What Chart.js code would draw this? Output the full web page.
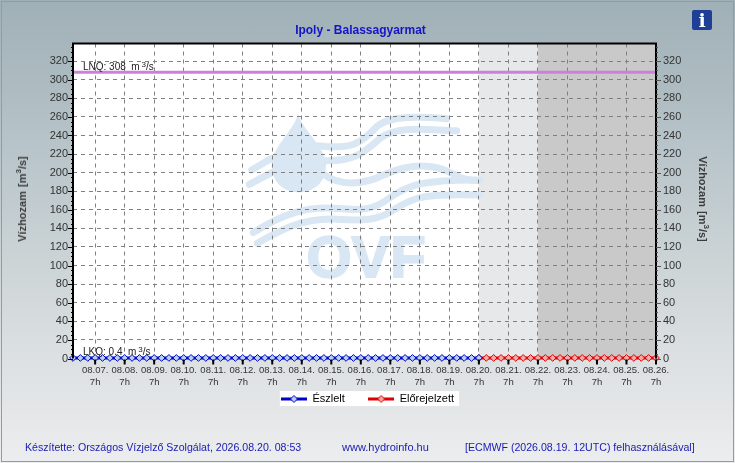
<!DOCTYPE html>
<html>
<head>
<meta charset="utf-8">
<title>Ipoly - Balassagyarmat</title>
<script src="https://cdn.jsdelivr.net/npm/chart.js@4"></script>
<style>
  html, body { margin: 0; padding: 0; }
  body {
    position: relative; width: 735px; height: 463px; overflow: hidden;
    font-family: "Liberation Sans", Arial, sans-serif;
    background: linear-gradient(#9fb0b6 0%, #b6c3c8 30%, #d3d9db 65%, #ecedee 100%);
  }
  #frame { position: absolute; left: 1px; top: 1px; width: 731px; height: 459px; border: 1px solid #9a9a9a; }
  canvas { position: absolute; left: 0; top: 0; }
  .txt { position: absolute; white-space: nowrap; }
  .title { left: 0; top: 23px; width: 721px; text-align: center; font-size: 12px; font-weight: bold; color: #1414c8; }
  .foot { top: 441px; font-size: 10.6px; color: #1a1ab4; }
  .ytitle { font-size: 11px; font-weight: bold; color: #3c3c3c; word-spacing: 1px; }
  .ytitle sup { font-size: 8px; line-height: 0; }
  #info {
    position: absolute; left: 692px; top: 10px; width: 20px; height: 20px; border-radius: 2px;
    background: #1f3f96; color: #fff; text-align: center;
    font: bold 19px/20px "DejaVu Serif", serif;
  }
</style>
</head>
<body>
<div id="frame"></div>
<canvas id="chart" width="735" height="463"></canvas>
<div class="txt title">Ipoly - Balassagyarmat</div>
<div class="txt ytitle" style="left:22px;top:199px;transform:translate(-50%,-50%) rotate(-90deg);">Vízhozam [m<sup>3</sup>/s]</div>
<div class="txt ytitle" style="left:703px;top:199px;transform:translate(-50%,-50%) rotate(90deg);">Vízhozam [m<sup>3</sup>/s]</div>
<div id="info">i</div>
<div class="txt foot" style="left:25px;">Készítette: Országos Vízjelző Szolgálat, 2026.08.20. 08:53</div>
<div class="txt foot" style="left:342px;font-size:11px;">www.hydroinfo.hu</div>
<div class="txt foot" style="left:465px;">[ECMWF (2026.08.19. 12UTC) felhasználásával]</div>
<script>
"use strict";

// ============================================
// DATA (x = hours since 08.07. 7h)
// ============================================
var dayLabels = ["08.07.", "08.08.", "08.09.", "08.10.", "08.11.", "08.12.", "08.13.", "08.14.", "08.15.", "08.16.",
  "08.17.", "08.18.", "08.19.", "08.20.", "08.21.", "08.22.", "08.23.", "08.24.", "08.25.", "08.26."];
var dayHours = [0, 24, 48, 72, 96, 120, 144, 168, 192, 216, 240, 264, 288, 312, 336, 360, 384, 408, 432, 456];
var yTicks = [0, 20, 40, 60, 80, 100, 120, 140, 160, 180, 200, 220, 240, 260, 280, 300, 320];

var observedHours = [-18, -12, -6, 0, 6, 12, 18, 24, 30, 36, 42, 48, 54, 60, 66, 72, 78, 84, 90, 96, 102, 108, 114, 120,
  126, 132, 138, 144, 150, 156, 162, 168, 174, 180, 186, 192, 198, 204, 210, 216, 222, 228, 234, 240, 246, 252, 258,
  264, 270, 276, 282, 288, 294, 300, 306, 312];
var observedValues = [0.6, 0.6, 0.6, 0.6, 0.6, 0.6, 0.6, 0.6, 0.6, 0.6, 0.6, 0.6, 0.6, 0.6, 0.6, 0.6, 0.6, 0.6, 0.6, 0.6,
  0.6, 0.6, 0.6, 0.6, 0.6, 0.6, 0.6, 0.6, 0.6, 0.6, 0.6, 0.6, 0.6, 0.6, 0.6, 0.6, 0.6, 0.6, 0.6, 0.6, 0.6, 0.6, 0.6,
  0.6, 0.6, 0.6, 0.6, 0.6, 0.6, 0.6, 0.6, 0.6, 0.6, 0.6, 0.6, 0.6];
var forecastHours = [312, 318, 324, 330, 336, 342, 348, 354, 360, 366, 372, 378, 384, 390, 396, 402, 408, 414, 420, 426,
  432, 438, 444, 450, 456];
var forecastValues = [0.6, 0.6, 0.6, 0.6, 0.6, 0.6, 0.6, 0.6, 0.6, 0.6, 0.6, 0.6, 0.6, 0.6, 0.6, 0.6, 0.6, 0.6, 0.6, 0.6,
  0.6, 0.6, 0.6, 0.6, 0.6];
var xRange = [-18, 456];
var lnqValue = 308;
var lkqValue = 0.4;
var forecastBands = [[312, 360, "#e6e8ea"], [360, 456, "#c9c9ca"]];

function pairs(xs, ys) {
  return xs.map(function (x, i) { return { x: x, y: ys[i] }; });
}

// legend sample: short thick line with a marker on it
function legendMark(line, fill) {
  var c = document.createElement("canvas");
  c.width = 26; c.height = 10;
  var g = c.getContext("2d");
  g.strokeStyle = line; g.lineWidth = 3;
  g.beginPath(); g.moveTo(0, 5); g.lineTo(26, 5); g.stroke();
  g.fillStyle = fill; g.lineWidth = 1;
  g.beginPath(); g.moveTo(13, 1.5); g.lineTo(16.5, 5); g.lineTo(13, 8.5); g.lineTo(9.5, 5); g.closePath();
  g.fill(); g.stroke();
  return c;
}

// ============================================
// PLUGINS
// ============================================
var backdrop = {
  id: "backdrop",
  beforeDraw: function (chart) {
    var g = chart.ctx, a = chart.chartArea, x = chart.scales.x;
    g.save();
    g.fillStyle = "#fff";
    g.fillRect(a.left, a.top, a.right - a.left, a.bottom - a.top);
    forecastBands.forEach(function (b) {
      g.fillStyle = b[2];
      g.fillRect(x.getPixelForValue(b[0]), a.top, x.getPixelForValue(b[1]) - x.getPixelForValue(b[0]), a.bottom - a.top);
    });

    // OVF watermark
    g.save();
    g.translate(240, 100);
    g.scale(1 / 3, 1 / 3);
    g.fillStyle = g.strokeStyle = "#d9e7f4";
    g.fill(new Path2D("M174 40 C165 90 95 140 95 195 C95 245 130 277 175 277 C225 277 258 245 258 195 C258 140 185 90 174 40 Z"));
    g.lineCap = "round";
    g.lineWidth = 21;
    ["M235 137 C340 150 360 130 410 80 C450 45 540 50 620 56",
     "M250 182 C340 185 370 160 420 115 C470 75 560 90 650 92",
     "M35 210 L95 175", "M28 253 L95 218",
     "M250 222 C300 260 370 255 430 225 C520 185 590 195 640 222 C670 240 700 242 718 242",
     "M40 398 C130 340 200 320 280 325 C350 330 390 335 440 300 C500 255 540 240 718 240",
     "M52 430 C130 385 190 355 280 357 C360 362 410 365 460 330 C520 290 560 280 718 285"
    ].forEach(function (d) { g.stroke(new Path2D(d)); });
    g.restore();
    g.font = "bold 58px 'Liberation Sans', Arial, sans-serif";
    g.textBaseline = "alphabetic";
    g.textAlign = "center";
    g.fillStyle = g.strokeStyle = "#d9e7f4";
    g.lineWidth = 2;
    g.fillText("OVF", 366, 277);
    g.strokeText("OVF", 366, 277);

    // legend box
    var boxes = chart.legend.legendHitBoxes;
    var last = boxes[boxes.length - 1];
    g.fillStyle = "#fff";
    g.fillRect(boxes[0].left - 1, 391, last.left + last.width - boxes[0].left + 6, 15);
    g.restore();
  }
};

function refLabel(g, name, value, x, y) {
  var text = name + ": " + value + "  m ";
  g.fillText(text, x, y);
  var w = g.measureText(text).width;
  g.font = "8px 'Liberation Sans', Arial, sans-serif";
  g.fillText("3", x + w - 1, y - 3);
  g.font = "10px 'Liberation Sans', Arial, sans-serif";
  g.fillText("/s", x + w + 3.5, y);
}

var overlay = {
  id: "overlay",
  afterDatasetsDraw: function (chart) {
    var g = chart.ctx, a = chart.chartArea, y = chart.scales.y;
    g.save();

    // frame and tick marks are black and sit on top of the grid
    g.strokeStyle = "#000";
    g.lineWidth = 2;
    g.beginPath();
    g.moveTo(a.left, a.bottom); g.lineTo(a.left, a.top); g.lineTo(a.right, a.top); g.lineTo(a.right, a.bottom);
    g.stroke();

    g.lineWidth = 1;
    for (var v = 0; v <= 335; v += 5) {
      var py = Math.round(y.getPixelForValue(v)) + 0.5;
      var len = v % 20 === 0 ? 5 : 2;
      g.strokeStyle = "#000";
      g.beginPath(); g.moveTo(a.left - len, py); g.lineTo(a.left, py); g.stroke();
      g.strokeStyle = "#555";
      g.beginPath(); g.moveTo(a.right, py); g.lineTo(a.right + len, py); g.stroke();
    }
    g.strokeStyle = "#000";
    g.lineWidth = 2;
    dayHours.forEach(function (h) {
      var px = chart.scales.x.getPixelForValue(h);
      g.beginPath(); g.moveTo(px, a.bottom + 1); g.lineTo(px, a.bottom + 6); g.stroke();
    });

    g.fillStyle = "#222";
    g.textBaseline = "alphabetic";
    g.textAlign = "left";
    g.font = "10px 'Liberation Sans', Arial, sans-serif";
    refLabel(g, "LNQ", lnqValue, a.left + 10, y.getPixelForValue(lnqValue) - 2.5);
    refLabel(g, "LKQ", lkqValue, a.left + 10, y.getPixelForValue(lkqValue) - 3);
    g.restore();
  }
};

// ============================================
// CHART
// ============================================
var fontFamily = "'Liberation Sans', Arial, sans-serif";
var dash = { display: true, color: "#808080", lineWidth: 1, drawTicks: false };

new Chart(document.getElementById("chart"), {
  type: "line",
  data: {
    datasets: [
      {
        label: "LNQ",
        data: pairs(xRange, [lnqValue, lnqValue]),
        borderColor: "#cc7fdc",
        borderWidth: 3,
        pointRadius: 0,
        clip: false
      },
      {
        label: "Észlelt",
        data: pairs(observedHours, observedValues),
        borderColor: "#0000c8",
        borderWidth: 3,
        pointStyle: "rectRot",
        pointRadius: 3.4,
        pointBorderWidth: 1,
        pointBackgroundColor: "#b4d0f2",
        pointBorderColor: "#0000c8",
        clip: false
      },
      {
        label: "Előrejelzett",
        data: pairs(forecastHours, forecastValues),
        borderColor: "#e00000",
        borderWidth: 3,
        pointStyle: "rectRot",
        pointRadius: 3.4,
        pointBorderWidth: 1,
        pointBackgroundColor: "#f5a8a8",
        pointBorderColor: "#e00000",
        clip: false
      }
    ]
  },
  options: {
    responsive: false,
    animation: false,
    devicePixelRatio: 1,
    layout: { padding: { top: 43.5, left: 0, right: 0, bottom: 48.5 } },
    plugins: {
      tooltip: { enabled: false },
      legend: {
        position: "bottom",
        labels: {
          color: "#000",
          font: { family: fontFamily, size: 11 },
          usePointStyle: true,
          pointStyleWidth: 26,
          padding: 2,
          generateLabels: function () {
            return [
              { text: "Észlelt\u00a0\u00a0\u00a0\u00a0\u00a0\u00a0\u00a0", pointStyle: legendMark("#0000c8", "#b4d0f2"), fontColor: "#000", datasetIndex: 1, lineWidth: 0, strokeStyle: "transparent", fillStyle: "transparent" },
              { text: "Előrejelzett", pointStyle: legendMark("#e00000", "#f5a8a8"), fontColor: "#000", datasetIndex: 2, lineWidth: 0, strokeStyle: "transparent", fillStyle: "transparent" }
            ];
          }
        }
      }
    },
    scales: {
      x: {
        type: "linear",
        min: xRange[0],
        max: xRange[1],
        afterBuildTicks: function (s) {
          s.ticks = dayHours.map(function (h) { return { value: h }; });
        },
        afterFit: function (s) { s.height = 33; },
        grid: Object.assign({}, dash),
        border: { display: false, dash: [4, 4] },
        ticks: {
          font: { family: fontFamily, size: 9.5, lineHeight: 1.25 },
          color: "#333",
          padding: 6,
          maxRotation: 0,
          autoSkip: false,
          callback: function (v) { return [dayLabels[dayHours.indexOf(v)], "7h"]; }
        }
      },
      y: {
        position: "left",
        min: 0,
        max: 339,
        afterBuildTicks: function (s) {
          s.ticks = yTicks.map(function (v) { return { value: v }; });
        },
        afterFit: function (s) { s.width = 73; },
        grid: Object.assign({}, dash),
        border: { display: false, dash: [4, 4] },
        ticks: { font: { family: fontFamily, size: 11 }, color: "#333", padding: 5 }
      },
      y2: {
        position: "right",
        min: 0,
        max: 339,
        afterBuildTicks: function (s) {
          s.ticks = yTicks.map(function (v) { return { value: v }; });
        },
        afterFit: function (s) { s.width = 79; },
        grid: { display: false, drawTicks: false },
        border: { display: false },
        ticks: { font: { family: fontFamily, size: 11 }, color: "#333", padding: 7 }
      }
    }
  },
  plugins: [backdrop, overlay]
});
</script>
</body>
</html>
